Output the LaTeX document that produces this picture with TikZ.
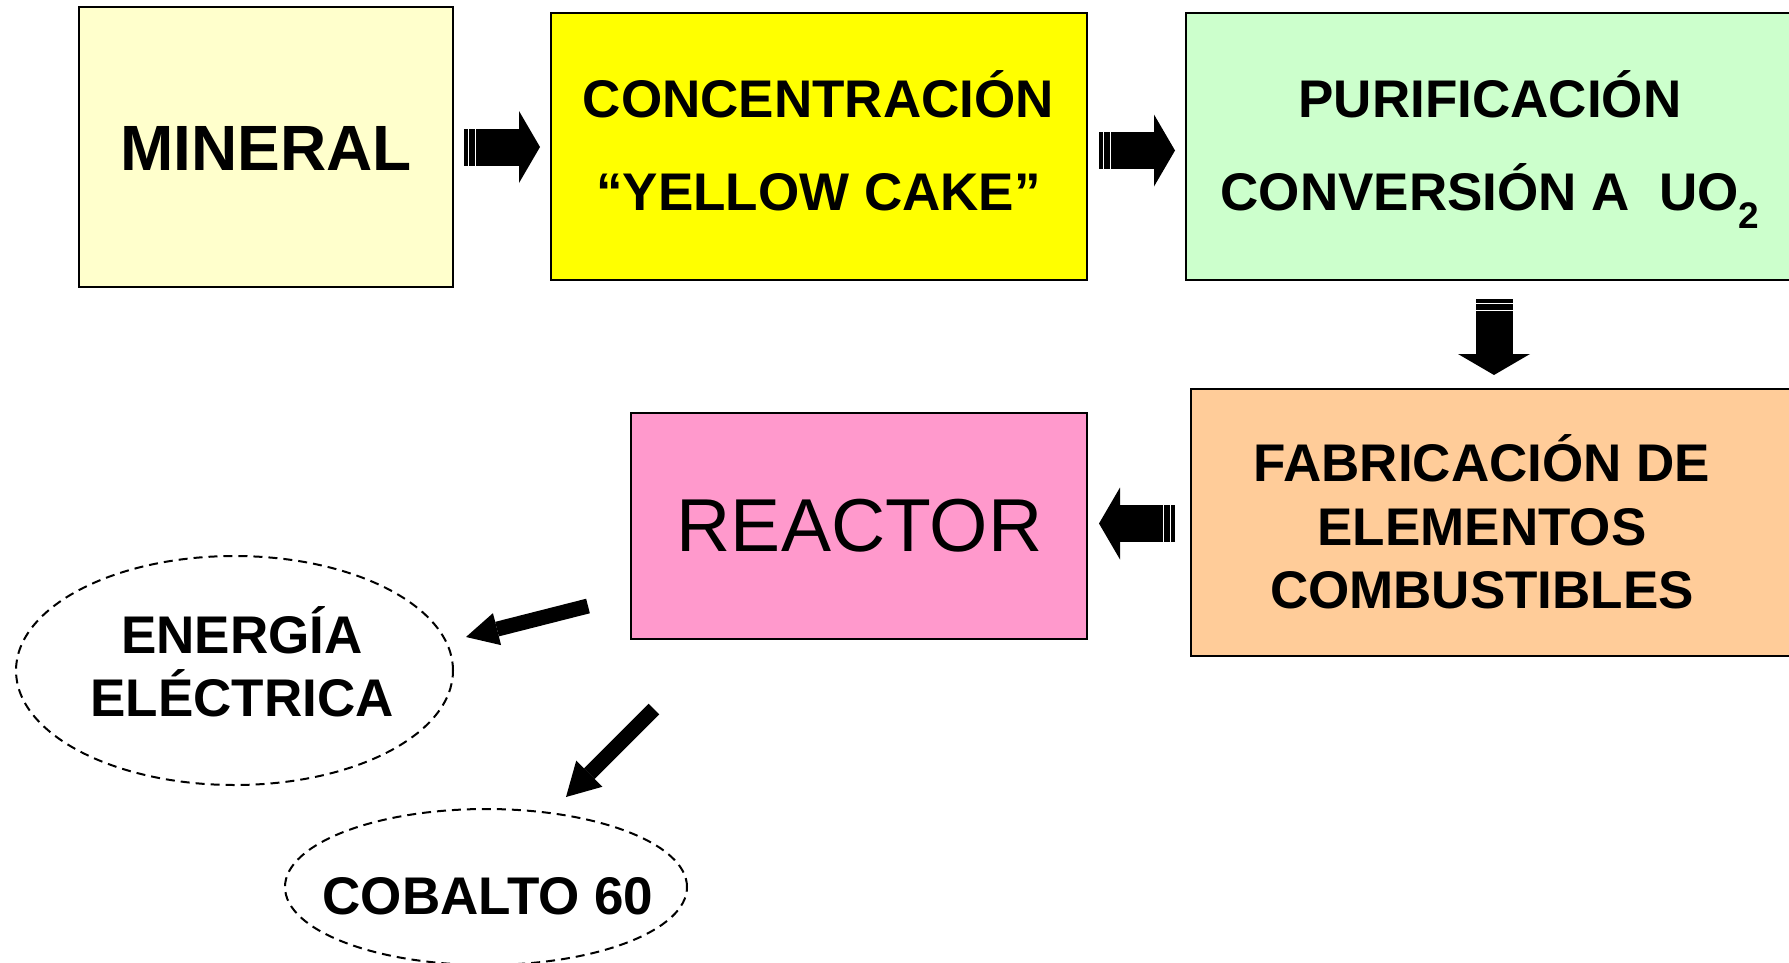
\documentclass[tikz,border=0pt]{standalone}
\usepackage{fontspec}
\setmainfont{Liberation Sans}
\usetikzlibrary{shapes.geometric, arrows.meta}

\definecolor{mineralfill}{HTML}{FFFFCC}
\definecolor{concfill}{HTML}{FFFF00}
\definecolor{purifill}{HTML}{CCFFCC}
\definecolor{fabfill}{HTML}{FFCC99}
\definecolor{reactorfill}{HTML}{FF99CC}

\tikzset{
  stagebox/.style={draw, line width=2pt, inner sep=0pt},
  stagetext/.style={font=\bfseries\fontsize{53}{93}\selectfont, align=center, inner sep=0pt},
  outcome/.style={ellipse, draw, line width=2pt, dash pattern=on 9pt off 6pt, inner sep=0pt},
  fatarrow/.style={line width=37pt, dash pattern=on 4pt off 1pt on 6pt off 1pt on 3000pt off 1pt,
    -{Triangle[length=21pt, width=72pt, line width=0pt]}},
  slimarrow/.style={line width=15pt, -{Triangle[length=32pt, width=33pt, line width=0pt]}},
}

\begin{document}
\begin{tikzpicture}[x=1pt, y=1pt]
  \path[use as bounding box, fill=white] (0,0) rectangle (1789,-962);

  % fuel cycle stages
  \node[stagebox, fill=mineralfill, minimum width=374, minimum height=280] (mineral) at (266,-147) {};
  \node[stagebox, fill=concfill, minimum width=536, minimum height=267] (conc) at (819,-146.5) {};
  \node[stagebox, fill=purifill, minimum width=614, minimum height=267] (purif) at (1493,-146.5) {};
  \node[stagebox, fill=fabfill, minimum width=609, minimum height=267] (fab) at (1495.5,-522.5) {};
  \node[stagebox, fill=reactorfill, minimum width=456, minimum height=226] (reactor) at (859,-526) {};

  \node[stagetext, font=\bfseries\fontsize{64}{64}\selectfont] (mineral-t) at (266,-148) {MINERAL};
  \node[stagetext] (conc-t) at (818.5,-141) {CONCENTRACIÓN\\“YELLOW CAKE”};
  \node[stagetext] (purif-t) at (1490,-141)
    {PURIFICACIÓN\\CONVERSIÓN A\ \ UO\raisebox{-18pt}[0pt][0pt]{\fontsize{37}{37}\selectfont 2}};
  \node[stagetext, font=\bfseries\fontsize{53}{63.5}\selectfont] (fab-t) at (1482,-522)
    {FABRICACIÓN DE\\ELEMENTOS\\COMBUSTIBLES};
  \node[stagetext, font=\fontsize{75}{75}\selectfont] (reactor-t) at (859.5,-526) {REACTOR};

  % products
  \node[outcome, minimum width=437, minimum height=229] (energy) at (234.5,-670.5) {};
  \node[outcome, minimum width=402, minimum height=156] (cobalt) at (486,-887) {};
  \node[stagetext, font=\bfseries\fontsize{53}{63}\selectfont] (energy-t) at (242,-662)
    {ENERGÍA\\ELÉCTRICA};
  \node[stagetext] (cobalt-t) at (488,-896) {COBALTO 60};

  % block arrows
  \draw[fatarrow, shorten <=10pt, shorten >=10pt] (mineral.east) -- (mineral.east -| conc.west);
  \draw[fatarrow, shorten <=11pt, shorten >=10pt] ([yshift=-4pt]conc.east) -- ([yshift=-4pt]conc.east -| purif.west);
  \draw[fatarrow, shorten <=18pt, shorten >=13pt] ([xshift=1pt]purif.south) -- ([xshift=1pt]purif.south |- fab.north);
  \draw[fatarrow, shorten <=15pt, shorten >=11pt] ([yshift=-1pt]fab.west) -- ([yshift=-1pt]fab.west -| reactor.east);

  \coordinate (energy-tail) at (588,-606);
  \coordinate (energy-tip) at (466,-637);
  \coordinate (cobalt-tail) at (654,-709);
  \coordinate (cobalt-tip) at (566,-797);
  \draw[slimarrow] (energy-tail) -- (energy-tip);
  \draw[slimarrow, -{Triangle[length=33pt, width=37pt, line width=0pt]}] (cobalt-tail) -- (cobalt-tip);
\end{tikzpicture}
\end{document}
